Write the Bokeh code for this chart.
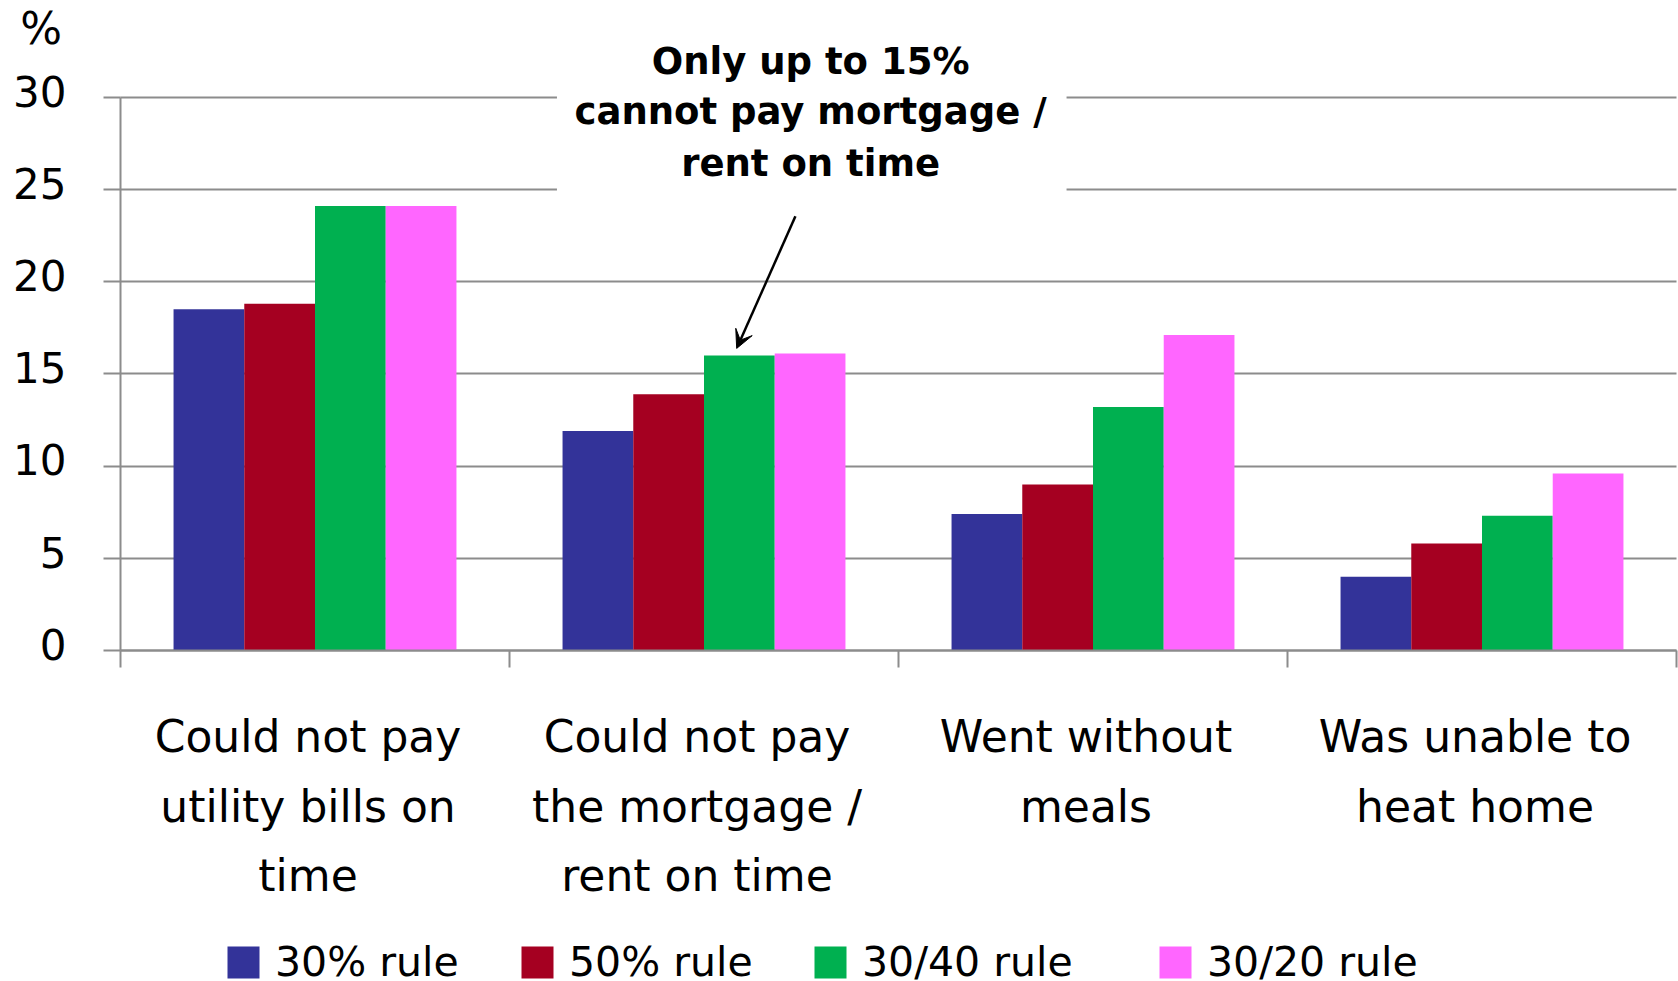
from bokeh.plotting import figure
from bokeh.models import (Range1d, FixedTicker, Label, Legend, LegendItem,
                          Arrow, VeeHead, LinearAxis, CustomJSTickFormatter)
from bokeh.embed import file_html
from bokeh.resources import INLINE

# ---- data ----
categories = [
    ["Could not pay", "utility bills on", "time"],
    ["Could not pay", "the mortgage /", "rent on time"],
    ["Went without", "meals"],
    ["Was unable to", "heat home"],
]
series_names = ["30% rule", "50% rule", "30/40 rule", "30/20 rule"]
rule30 = [18.5, 11.9, 7.4, 4.0]
rule50 = [18.8, 13.9, 9.0, 5.8]
rule3040 = [24.1, 16.0, 13.2, 7.3]
rule3020 = [24.1, 16.1, 17.1, 9.6]
series_values = [rule30, rule50, rule3040, rule3020]
colors = ["#333399", "#A50021", "#00B050", "#FF66FF"]
y_ticks = [0, 5, 10, 15, 20, 25, 30]
annotation_lines = ["Only up to 15%", "cannot pay mortgage /", "rent on time"]

GRAY = "#8c8c8c"
FONT = "DejaVu Sans"
W, H = 1678, 981
X0, Y0 = 120.0, 650.0        # pixel position of the data origin
PX_X = 389.0                  # pixels per category
PX_Y = (650.0 - 96.7) / 30.0  # pixels per percent
LABEL_LIFT = 0.33             # tick labels sit slightly above their grid line

p = figure(width=W, height=H,
           x_range=Range1d(-X0 / PX_X, (W - X0) / PX_X),
           y_range=Range1d(-(H - Y0) / PX_Y, Y0 / PX_Y),
           output_backend="svg", toolbar_location=None,
           min_border_left=0, min_border_right=0,
           min_border_top=0, min_border_bottom=0,
           outline_line_color=None)
p.background_fill_color = "white"
p.border_fill_color = "white"

ncat = len(categories)

# axes at fixed positions inside the frame
xa = p.xaxis[0]
xa.fixed_location = 0
xa.bounds = (0, ncat)
xa.ticker = FixedTicker(ticks=list(range(ncat + 1)))
xa.major_label_overrides = {i: "" for i in range(ncat + 1)}
xa.axis_line_color = GRAY
xa.axis_line_width = 2
xa.major_tick_line_color = GRAY
xa.major_tick_line_width = 2
xa.major_tick_out = 17
xa.major_tick_in = 0
xa.minor_tick_line_color = None
p.xgrid.grid_line_color = None

ya = p.yaxis[0]
ya.fixed_location = 0
ya.bounds = (0, 30)
ya.ticker = FixedTicker(ticks=y_ticks)
ya.axis_line_color = GRAY
ya.axis_line_width = 2
ya.major_tick_line_color = GRAY
ya.major_tick_line_width = 2
ya.major_tick_out = 17
ya.major_tick_in = 0
ya.minor_tick_line_color = None
ya.major_label_overrides = {t: "" for t in y_ticks}

# label-only axis: same values, nudged up a few pixels like the original
ylab = LinearAxis(fixed_location=0,
                  ticker=FixedTicker(ticks=[t + LABEL_LIFT for t in y_ticks]),
                  formatter=CustomJSTickFormatter(
                      code="return Math.round(tick - %s).toString()" % LABEL_LIFT),
                  axis_line_color=None, major_tick_line_color=None,
                  minor_tick_line_color=None, major_tick_out=17, major_tick_in=0,
                  major_label_standoff=37, major_label_text_font=FONT,
                  major_label_text_font_size="42px",
                  major_label_text_color="black")
p.add_layout(ylab, "left")

g = p.ygrid[0]
g.grid_line_color = GRAY
g.grid_line_width = 2
g.bounds = (0, 30)
if "cross_bounds" in g.properties():
    g.cross_bounds = (0, ncat)
else:
    g.grid_line_color = None
    p.segment(x0=[0] * len(y_ticks), x1=[ncat] * len(y_ticks), y0=y_ticks,
              y1=y_ticks, line_color=GRAY, line_width=2, level="underlay")

# white box behind annotation text (hides grid lines)
p.quad(left=1.122, right=2.432, bottom=24.3, top=33, fill_color="white",
       line_color=None)

# bars
n = len(series_names)
bw = 1 / 5.5
renderers = []
for k, (name, vals, col) in enumerate(zip(series_names, series_values, colors)):
    xs = [i + 0.5 + (k - (n - 1) / 2) * bw for i in range(len(vals))]
    r = p.vbar(x=xs, top=vals, width=bw, fill_color=col, line_color=None)
    renderers.append(r)

# category labels
line_y = [-4.66, -8.46, -12.2]
for i, lines in enumerate(categories):
    for j, t in enumerate(lines):
        p.add_layout(Label(x=i + 0.5 - 0.018, y=line_y[j], text=t,
                           text_align="center", text_baseline="middle",
                           text_font=FONT, text_font_size="44px",
                           text_color="black"))

# percent sign
p.add_layout(Label(x=-0.204, y=33.7, text="%", text_align="center",
                   text_baseline="middle", text_font=FONT,
                   text_font_size="44px", text_color="black"))

# annotation
ann_y = [31.92, 29.21, 26.39]
for t, yy in zip(annotation_lines, ann_y):
    p.add_layout(Label(x=1.774, y=yy, text=t, text_align="center",
                       text_baseline="middle", text_font=FONT,
                       text_font_style="bold", text_font_size="37px",
                       text_color="black"))
p.add_layout(Arrow(end=VeeHead(size=18, fill_color="black", line_color="black"),
                   x_start=1.735, y_start=23.54, x_end=1.584, y_end=16.38,
                   line_width=2.5, line_color="black"))

# legend: one entry per legend box, placed individually
legend_x = [223, 517, 810, 1155]
for nm, r, lx in zip(series_names, renderers, legend_x):
    lg = Legend(items=[LegendItem(label=nm, renderers=[r])],
                location=(lx, -5), orientation="horizontal",
                glyph_width=40, glyph_height=40, label_standoff=12,
                spacing=0, padding=0, margin=0, border_line_color=None,
                background_fill_alpha=0, label_text_font=FONT,
                label_text_font_size="41px", label_text_color="black")
    p.add_layout(lg, "center")

open("out.html", "w").write(file_html(p, INLINE))
